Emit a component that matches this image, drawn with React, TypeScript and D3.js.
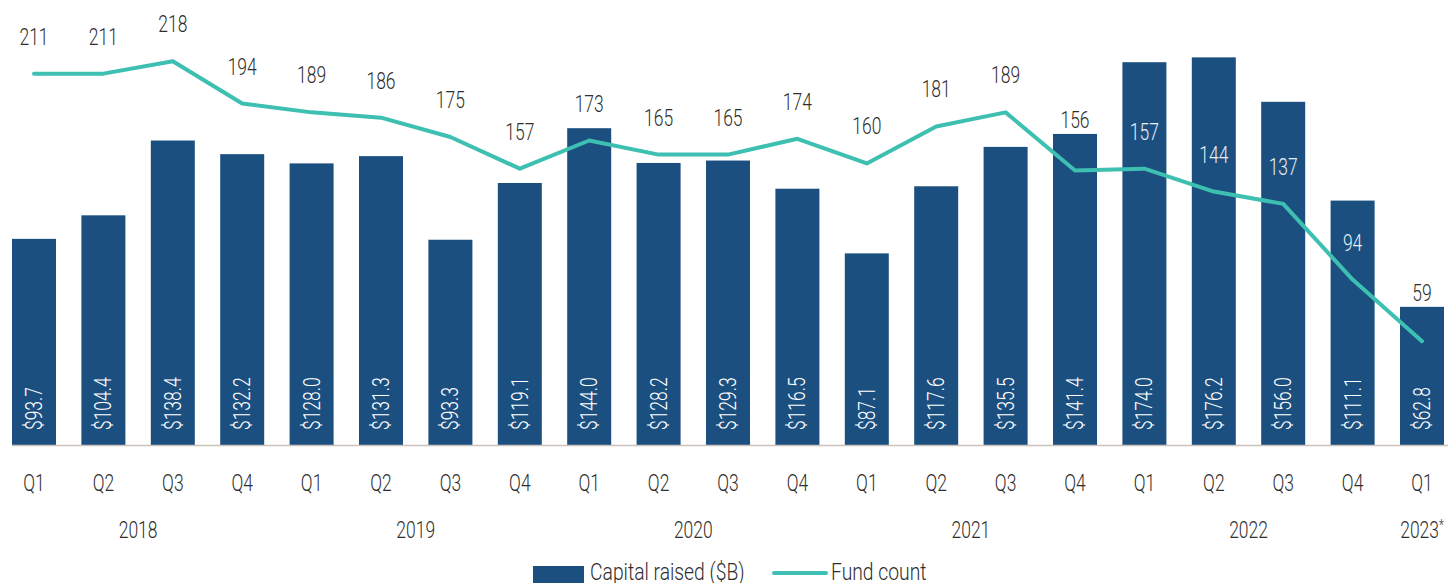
import React, { useEffect } from "react";
import * as d3 from "d3";

// data
const quarters = [
  "Q1", "Q2", "Q3", "Q4",
  "Q1", "Q2", "Q3", "Q4",
  "Q1", "Q2", "Q3", "Q4",
  "Q1", "Q2", "Q3", "Q4",
  "Q1", "Q2", "Q3", "Q4",
  "Q1",
];
const years = ["2018", "2019", "2020", "2021", "2022", "2023"];
const quartersPerYear = [4, 4, 4, 4, 4, 1];
const capitalRaised = [
  93.7, 104.4, 138.4, 132.2, 128.0, 131.3, 93.3, 119.1, 144.0, 128.2, 129.3,
  116.5, 87.1, 117.6, 135.5, 141.4, 174.0, 176.2, 156.0, 111.1, 62.8,
];
const fundCount = [
  211, 211, 218, 194, 189, 186, 175, 157, 173, 165, 165, 174, 160, 181, 189,
  156, 157, 144, 137, 94, 59,
];

const W = 1448;
const H = 583;
const baseY = 445;
const FONT = "Roboto, 'Liberation Sans', sans-serif";
const BAR = "#1b4f7f";
const LINE = "#3dbfb1";
const TEXT = "#2e2e2e";
const SX = 0.76; // narrow the glyphs to look like a condensed face

// condensed text helper
const T = ({ x, y, rot = 0, anchor = "start", size = 23, sx = SX, fill = TEXT, children }: any) => (
  <text
    transform={`translate(${x},${y}) rotate(${rot}) scale(${sx},1)`}
    textAnchor={anchor}
    fontSize={size}
    fontWeight={300}
    fill={fill}
  >
    {children}
  </text>
);

const App = () => {
  useEffect(() => {
    document.body.style.margin = "0";
  }, []);

  const idx = quarters.map((_, i) => i);
  const step = 69.4;
  const x = d3
    .scaleBand<number>()
    .domain(idx)
    .range([34 - step / 2, 34 - step / 2 + step * quarters.length])
    .paddingInner(0.366)
    .paddingOuter(0.183);
  const cx = (i: number) => (x(i) as number) + x.bandwidth() / 2;

  const yBar = d3.scaleLinear().domain([0, 200]).range([baseY, 5]);
  const yLine = d3.scaleLinear().domain([0, 250]).range([baseY, 5]);

  const line = d3
    .line<number>()
    .x((_, i) => cx(i))
    .y((d) => yLine(d));

  // year group centres
  let acc = 0;
  const yearPos = years.map((yr, k) => {
    const first = acc;
    acc += quartersPerYear[k];
    return { yr, c: (cx(first) + cx(acc - 1)) / 2 };
  });

  // fund count labels: above the point, lifted over a bar top they would straddle
  const countLabels = fundCount.map((v, i) => {
    const top = yBar(capitalRaised[i]);
    let ly = yLine(v) - 37;
    let inside = false;
    if (Math.abs(ly - top) < 14) ly = top - 14;
    else if (ly > top) inside = true;
    return { v, i, ly, inside };
  });

  return (
    <svg width={W} height={H} style={{ display: "block" }} fontFamily={FONT}>
      {capitalRaised.map((v, i) => (
        <rect
          key={"b" + i}
          x={x(i)}
          y={yBar(v)}
          width={x.bandwidth()}
          height={baseY - yBar(v)}
          fill={BAR}
        />
      ))}
      {capitalRaised.map((v, i) => (
        <T key={"bv" + i} x={cx(i) + 8} y={430} rot={-90} fill="#ffffff">
          {"$" + d3.format(".1f")(v)}
        </T>
      ))}
      <line x1={12} x2={W} y1={baseY + 0.5} y2={baseY + 0.5} stroke="#cbc4bd" strokeWidth={1.5} />
      <path
        d={line(fundCount) || ""}
        fill="none"
        stroke={LINE}
        strokeWidth={4}
        strokeLinejoin="round"
        strokeLinecap="round"
      />
      {countLabels.map((d) => (
        <T key={"c" + d.i} x={cx(d.i)} y={d.ly + 8} anchor="middle" fill={d.inside ? "#e9eff5" : TEXT}>
          {d.v}
        </T>
      ))}
      {quarters.map((q, i) => (
        <T key={"q" + i} x={cx(i)} y={491} anchor="middle">
          {q}
        </T>
      ))}
      {yearPos.map((d, k) => (
        <T key={"y" + k} x={d.c} y={538} anchor="middle">
          {d.yr}
          {k === years.length - 1 ? (
            <tspan fontSize={15} dy={-8}>*</tspan>
          ) : null}
        </T>
      ))}
      {/* legend */}
      <rect x={533} y={566} width={51} height={20} fill={BAR} />
      <T x={590} y={580} sx={0.84}>Capital raised ($B)</T>
      <line x1={774} x2={826} y1={573} y2={573} stroke={LINE} strokeWidth={4} strokeLinecap="round" />
      <T x={831} y={580} sx={0.84}>Fund count</T>
    </svg>
  );
};

export default App;
